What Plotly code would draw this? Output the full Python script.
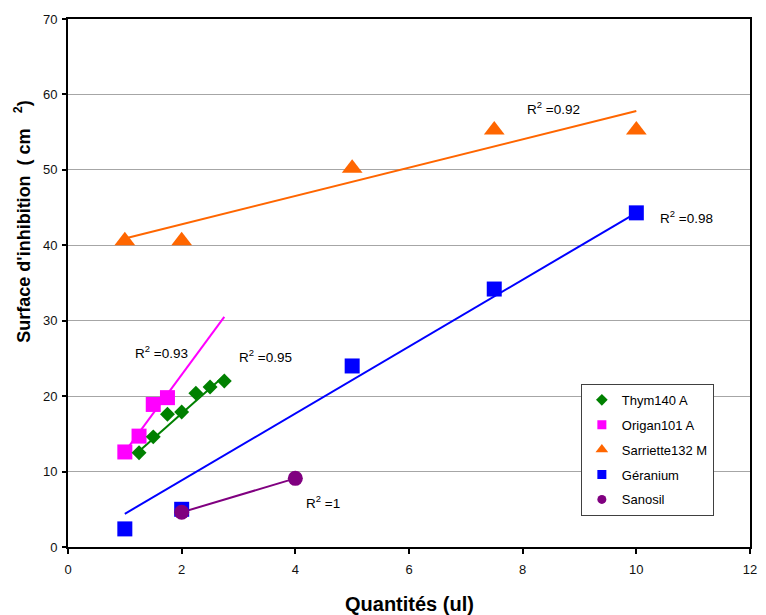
import plotly.graph_objects as go

# ---- data ----
thym_x = [1.25, 1.5, 1.75, 2.0, 2.25, 2.5, 2.75]
thym_y = [12.5, 14.6, 17.6, 17.9, 20.4, 21.2, 22.0]
thym_fit_x = [1.25, 2.75]
thym_fit_y = [12.7, 22.7]

origan_x = [1.0, 1.25, 1.5, 1.75]
origan_y = [12.6, 14.7, 18.9, 19.8]
origan_fit_x = [1.0, 2.75]
origan_fit_y = [12.6, 30.5]

sarriette_x = [1, 2, 5, 7.5, 10]
sarriette_y = [40.6, 40.6, 50.2, 55.3, 55.3]
sarriette_fit_x = [1, 10]
sarriette_fit_y = [40.9, 57.8]

geranium_x = [1, 2, 5, 7.5, 10]
geranium_y = [2.4, 5.0, 24.0, 34.2, 44.3]
geranium_fit_x = [1, 10]
geranium_fit_y = [4.4, 44.3]

sanosil_x = [2, 4]
sanosil_y = [4.6, 9.1]

series_names = ["Thym140 A", "Origan101 A", "Sarriette132 M", "Géranium", "Sanosil"]
r2_labels = ["R<sup>2</sup> =0.95", "R<sup>2</sup> =0.93", "R<sup>2</sup> =0.92",
             "R<sup>2</sup> =0.98", "R<sup>2</sup> =1"]
r2_x = [3.48, 1.65, 8.55, 10.89, 4.49]
r2_y = [25.3, 25.8, 58.2, 43.8, 6.0]

x_ticks = [0, 2, 4, 6, 8, 10, 12]
y_ticks = [0, 10, 20, 30, 40, 50, 60, 70]

# ---- styles ----
colors = ["#008000", "#FF00FF", "#FF6600", "#0000FF", "#800080"]
symbols = ["diamond", "square", "triangle-up", "square", "circle"]
msizes = [11.5, 15, 18, 15, 15]
FONT = "Liberation Sans, Arial, sans-serif"

fig = go.Figure()

# trend lines
fits = [(thym_fit_x, thym_fit_y, 0), (origan_fit_x, origan_fit_y, 1),
        (sarriette_fit_x, sarriette_fit_y, 2), (geranium_fit_x, geranium_fit_y, 3),
        (sanosil_x, sanosil_y, 4)]
for fx, fy, i in fits:
    fig.add_trace(go.Scatter(x=fx, y=fy, mode="lines",
                             line=dict(color=colors[i], width=2),
                             showlegend=False, hoverinfo="skip"))

# markers
data = [(origan_x, origan_y, 1), (thym_x, thym_y, 0), (sarriette_x, sarriette_y, 2),
        (geranium_x, geranium_y, 3), (sanosil_x, sanosil_y, 4)]
for dx, dy, i in data:
    fig.add_trace(go.Scatter(x=dx, y=dy, mode="markers", name=series_names[i],
                             marker=dict(color=colors[i], symbol=symbols[i],
                                         size=msizes[i], line=dict(width=0)),
                             showlegend=False))

# legend entries (small symbols)
for i, nm in enumerate(series_names):
    fig.add_trace(go.Scatter(x=[None], y=[None], mode="markers", name=nm,
                             legendgroup=str(i),
                             marker=dict(color=colors[i], symbol=symbols[i],
                                         size=9 if symbols[i] != "triangle-up" else 11,
                                         line=dict(width=0))))

annotations = []
for t, ax, ay in zip(r2_labels, r2_x, r2_y):
    annotations.append(dict(x=ax, y=ay, xref="x", yref="y", text=t, showarrow=False,
                            font=dict(family=FONT, size=13.5, color="#000"),
                            xanchor="center", yanchor="middle"))

annotations.append(dict(x=0.5, y=-0.108, xref="paper", yref="paper",
                        text="<b>Quantités (ul)</b>", showarrow=False,
                        font=dict(family=FONT, size=20, color="#000"),
                        xanchor="center", yanchor="middle"))
annotations.append(dict(x=-0.0668, y=0.617, xref="paper", yref="paper",
                        text="<b>Surface d'inhibition\u00a0\u00a0(\u00a0cm\u00a0\u00a0\u00a0<sup>2</sup>)</b>",
                        showarrow=False, textangle=-90,
                        font=dict(family=FONT, size=18, color="#000"),
                        xanchor="center", yanchor="middle"))

fig.update_layout(
    width=766, height=615,
    margin=dict(l=68, r=9, t=19, b=68),
    paper_bgcolor="white", plot_bgcolor="white",
    font=dict(family=FONT, color="#111"),
    annotations=annotations,
    legend=dict(x=0.752, y=0.309, xanchor="left", yanchor="top",
                bgcolor="white", bordercolor="#404040", borderwidth=1,
                font=dict(family=FONT, size=13, color="#000"),
                tracegroupgap=5, itemwidth=30),
    xaxis=dict(range=[0, 12], tickvals=x_ticks, ticks="outside", ticklen=5,
               tickcolor="#000", tickwidth=1.5, showgrid=False, zeroline=False,
               showline=True, linecolor="#000", linewidth=2, mirror=True,
               tickfont=dict(family=FONT, size=13, color="#111"),
               ticklabelstandoff=4),
    yaxis=dict(range=[0, 70], tickvals=y_ticks, ticks="outside", ticklen=4,
               tickcolor="#000", tickwidth=1.5, showgrid=True, gridcolor="#a6a6a6",
               gridwidth=1, zeroline=False,
               showline=True, linecolor="#000", linewidth=2, mirror=True,
               tickfont=dict(family=FONT, size=13, color="#111"),
               ticklabelstandoff=2),
)

fig.write_html("out.html")
